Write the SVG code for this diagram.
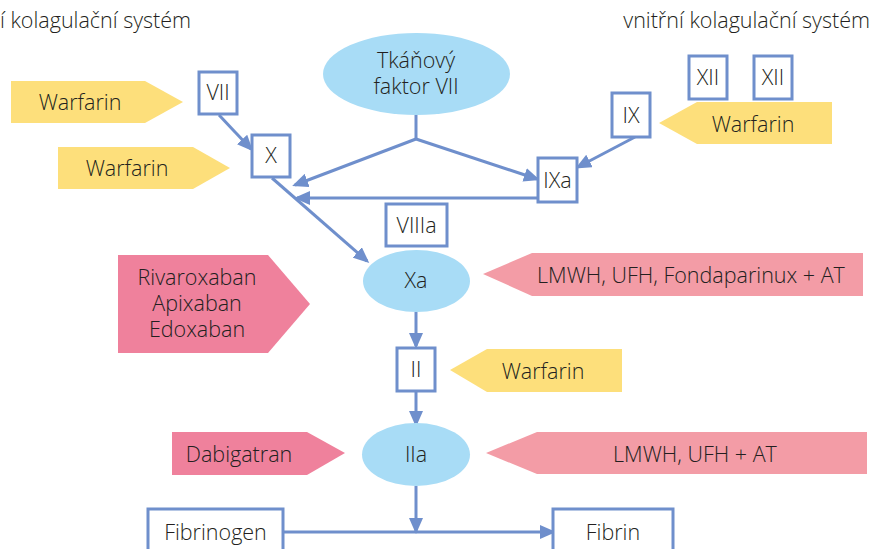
<svg xmlns="http://www.w3.org/2000/svg" width="872" height="549" viewBox="0 0 872 549">
<defs>
<style>
text{font-family:"Open Sans","Noto Sans","DejaVu Sans",sans-serif;font-size:21.5px;font-weight:300;fill:#231f20}
.c{text-anchor:middle}
.box{fill:#fff;stroke:#6f8fcc;stroke-width:3}
.ell{fill:#a8dcf6}
.yel{fill:#fddf7b}
.pk1{fill:#ef819c}
.pk2{fill:#f39ca6}
.ln{fill:none;stroke:#6f8fcc;stroke-width:3}
</style>
<marker id="ah" markerUnits="userSpaceOnUse" markerWidth="16" markerHeight="14" refX="13" refY="7" orient="auto">
<path d="M0,0 L16,7 L0,14 z" fill="#6f8fcc"/>
</marker>
</defs>
<rect width="872" height="549" fill="#fff"/>
<g id="titles">
<text x="0" y="28">í kolagulační systém</text>
<text x="870" y="28" style="text-anchor:end">vnitřní kolagulační systém</text>
</g>
<g id="connectors">
<path class="ln" d="M219,115 L251,149" marker-end="url(#ah)"/>
<path class="ln" d="M272,178 L367,261" marker-end="url(#ah)"/>
<path class="ln" d="M416,115 L416,139"/>
<path class="ln" d="M416,139 L295,185" marker-end="url(#ah)"/>
<path class="ln" d="M416,139 L537,179" marker-end="url(#ah)"/>
<path class="ln" d="M538,198 L297,198" marker-end="url(#ah)"/>
<path class="ln" d="M635,137 L578,167" marker-end="url(#ah)"/>
<path class="ln" d="M416,312 L416,346" marker-end="url(#ah)"/>
<path class="ln" d="M416,391 L416,424" marker-end="url(#ah)"/>
<path class="ln" d="M416,486 L416,531" marker-end="url(#ah)"/>
<path class="ln" d="M283,532 L553,532" marker-end="url(#ah)"/>
</g>
<g id="tf">
<ellipse class="ell" cx="416.5" cy="74" rx="93.5" ry="41"/>
<text class="c" x="416" y="68">Tkáňový<tspan x="416" dy="26">faktor VII</tspan></text>
</g>
<g id="vii"><rect class="box" x="199" y="72" width="38" height="42"/><text class="c" x="218" y="100">VII</text></g>
<g id="x"><rect class="box" x="252" y="135" width="38" height="42"/><text class="c" x="271" y="163">X</text></g>
<g id="ixa"><rect class="box" x="538" y="158" width="39" height="44"/><text class="c" x="557.5" y="188">IXa</text></g>
<g id="viiia"><rect class="box" x="386" y="204" width="61" height="42"/><text class="c" x="416.5" y="233">VIIIa</text></g>
<g id="xii1"><rect class="box" x="689" y="56" width="38" height="43"/><text class="c" x="708" y="85">XII</text></g>
<g id="xii2"><rect class="box" x="754" y="56" width="38" height="43"/><text class="c" x="773" y="85">XII</text></g>
<g id="ix"><rect class="box" x="612" y="93" width="38" height="44"/><text class="c" x="631" y="123">IX</text></g>
<g id="xa"><ellipse class="ell" cx="416.5" cy="281" rx="53.5" ry="31"/><text class="c" x="416" y="288">Xa</text></g>
<g id="ii"><rect class="box" x="397" y="348" width="38" height="43"/><text class="c" x="416" y="377">II</text></g>
<g id="iia"><ellipse class="ell" cx="416" cy="454.5" rx="54" ry="31.5"/><text class="c" x="416" y="462">IIa</text></g>
<g id="fibrinogen"><rect class="box" x="148" y="509" width="135" height="52"/><text class="c" x="215.5" y="540">Fibrinogen</text></g>
<g id="fibrin"><rect class="box" x="553" y="509" width="120" height="52"/><text class="c" x="613" y="540">Fibrin</text></g>
<g id="warfarin1"><polygon class="yel" points="11,81 145,81 183,102 145,123 11,123"/><text class="c" x="80" y="110">Warfarin</text></g>
<g id="warfarin2"><polygon class="yel" points="58,147 193,147 230,168 193,189 58,189"/><text class="c" x="127" y="176">Warfarin</text></g>
<g id="warfarin3"><polygon class="yel" points="659,123 697,102 832,102 832,144 697,144"/><text class="c" x="753" y="132">Warfarin</text></g>
<g id="warfarin4"><polygon class="yel" points="450,370 487,349 622,349 622,392 487,392"/><text class="c" x="543" y="379">Warfarin</text></g>
<g id="xaninhib"><polygon class="pk1" points="118,255 268,255 310,304 268,353 118,353"/>
<text class="c" x="197" y="285">Rivaroxaban<tspan x="197" dy="26">Apixaban</tspan><tspan x="197" dy="26">Edoxaban</tspan></text></g>
<g id="lmwh1"><polygon class="pk2" points="483,274 532,253 863,253 863,296 532,296"/><text class="c" x="691" y="283">LMWH, UFH, Fondaparinux + AT</text></g>
<g id="dabigatran"><polygon class="pk1" points="172,432 307,432 345,453 307,475 172,475"/><text class="c" x="239" y="462">Dabigatran</text></g>
<g id="lmwh2"><polygon class="pk2" points="486,453 537,432 867,432 867,474 537,474"/><text class="c" x="695" y="462">LMWH, UFH + AT</text></g>
</svg>
